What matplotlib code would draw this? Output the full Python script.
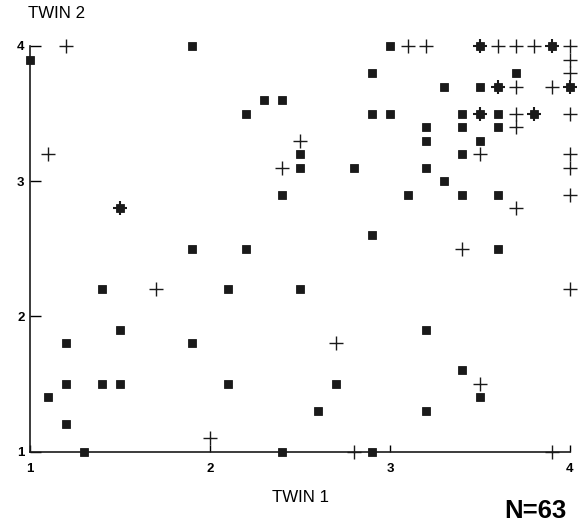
import matplotlib
matplotlib.use("Agg")
import matplotlib.pyplot as plt

plt.rcParams['font.family'] = ['Liberation Sans', 'DejaVu Sans']

# Pairs where only the first group (filled squares) is present
square_x = [1.0, 1.9, 1.1, 1.2, 1.2, 1.4, 1.5, 1.2, 1.3, 1.9, 1.4, 1.5, 1.9, 2.4,
            2.9, 2.2, 2.1, 2.5, 2.1, 2.6, 2.7, 2.4, 2.9, 3.2, 3.4, 3.5, 3.2, 3.3,
            3.1, 3.4, 3.6, 3.6, 2.9, 2.3, 2.4, 2.2, 2.9, 2.5, 2.5, 2.8, 3.0, 3.7,
            3.3, 3.5, 3.0, 3.4, 3.6, 3.2, 3.4, 3.6, 3.2, 3.5, 3.4, 3.2]
square_y = [3.9, 4.0, 1.4, 1.8, 1.5, 1.5, 1.5, 1.2, 1.0, 1.8, 2.2, 1.9, 2.5, 2.9,
            2.6, 2.5, 2.2, 2.2, 1.5, 1.3, 1.5, 1.0, 1.0, 1.9, 1.6, 1.4, 1.3, 3.0,
            2.9, 2.9, 2.9, 2.5, 3.8, 3.6, 3.6, 3.5, 3.5, 3.2, 3.1, 3.1, 4.0, 3.8,
            3.7, 3.7, 3.5, 3.5, 3.5, 3.4, 3.4, 3.4, 3.3, 3.3, 3.2, 3.1]

# Pairs drawn with a plus sign
plus_x = [1.2, 1.1, 1.7, 2.7, 2.0, 2.8, 3.9, 3.5, 4.0, 3.7, 3.4, 4.0, 2.5, 2.4,
          3.1, 3.2, 3.6, 3.7, 3.8, 4.0, 4.0, 4.0, 3.9, 3.7, 3.7, 4.0, 3.7, 3.5,
          4.0, 4.0]
plus_y = [4.0, 3.2, 2.2, 1.8, 1.1, 1.0, 1.0, 1.5, 2.9, 2.8, 2.5, 2.2, 3.3, 3.1,
          4.0, 4.0, 4.0, 4.0, 4.0, 4.0, 3.9, 3.8, 3.7, 3.7, 3.5, 3.5, 3.4, 3.2,
          3.2, 3.1]

# Coinciding pairs (square with plus overlaid)
both_x = [1.5, 3.5, 3.9, 4.0, 3.6, 3.5, 3.8]
both_y = [2.8, 4.0, 4.0, 3.7, 3.7, 3.5, 3.5]

ticks = [1, 2, 3, 4]
tick_labels = ['1', '2', '3', '4']

fig = plt.figure(figsize=(5.81, 5.23), dpi=100)
ax = fig.add_axes([30 / 581, 1 - 451.5 / 523, 540 / 581, 405.5 / 523])

sq_kw = dict(linestyle='none', marker='s', ms=5.6, mfc='#1a1a1a', mec='#1a1a1a',
             mew=0.6, clip_on=False, zorder=3)
pl_kw = dict(linestyle='none', marker='+', ms=10.5, mec='#1a1a1a', mew=1.0,
             clip_on=False, zorder=4)

ax.plot(square_x, square_y, **sq_kw)
ax.plot(plus_x, plus_y, **pl_kw)
ax.plot(both_x, both_y, **sq_kw)
ax.plot(both_x, both_y, **dict(pl_kw, mew=1.5))

ax.set_xlim(1, 4)
ax.set_ylim(1, 4)
for side in ('top', 'right'):
    ax.spines[side].set_visible(False)
for side in ('left', 'bottom'):
    ax.spines[side].set_linewidth(1.2)
    ax.spines[side].set_color('#1a1a1a')

ax.set_xticks(ticks)
ax.set_xticklabels(tick_labels, fontsize=9.5, fontweight='bold')
ax.set_yticks(ticks)
ax.set_yticklabels(tick_labels, fontsize=9.5, fontweight='bold')
ax.tick_params(axis='x', direction='in', length=5, width=1.0, pad=8)
ax.tick_params(axis='y', direction='in', length=8, width=1.0, pad=4)

fig.text(28 / 581, 1 - 14 / 523, 'TWIN 2', fontsize=12.2, ha='left', va='center')
fig.text(300 / 581, 1 - 498 / 523, 'TWIN 1', fontsize=12.2, ha='center', va='center')
fig.text(535 / 581, 1 - 511 / 523, 'N=63', fontsize=18.5, fontweight='bold',
         ha='center', va='center')

fig.savefig('out.png', dpi=100)
